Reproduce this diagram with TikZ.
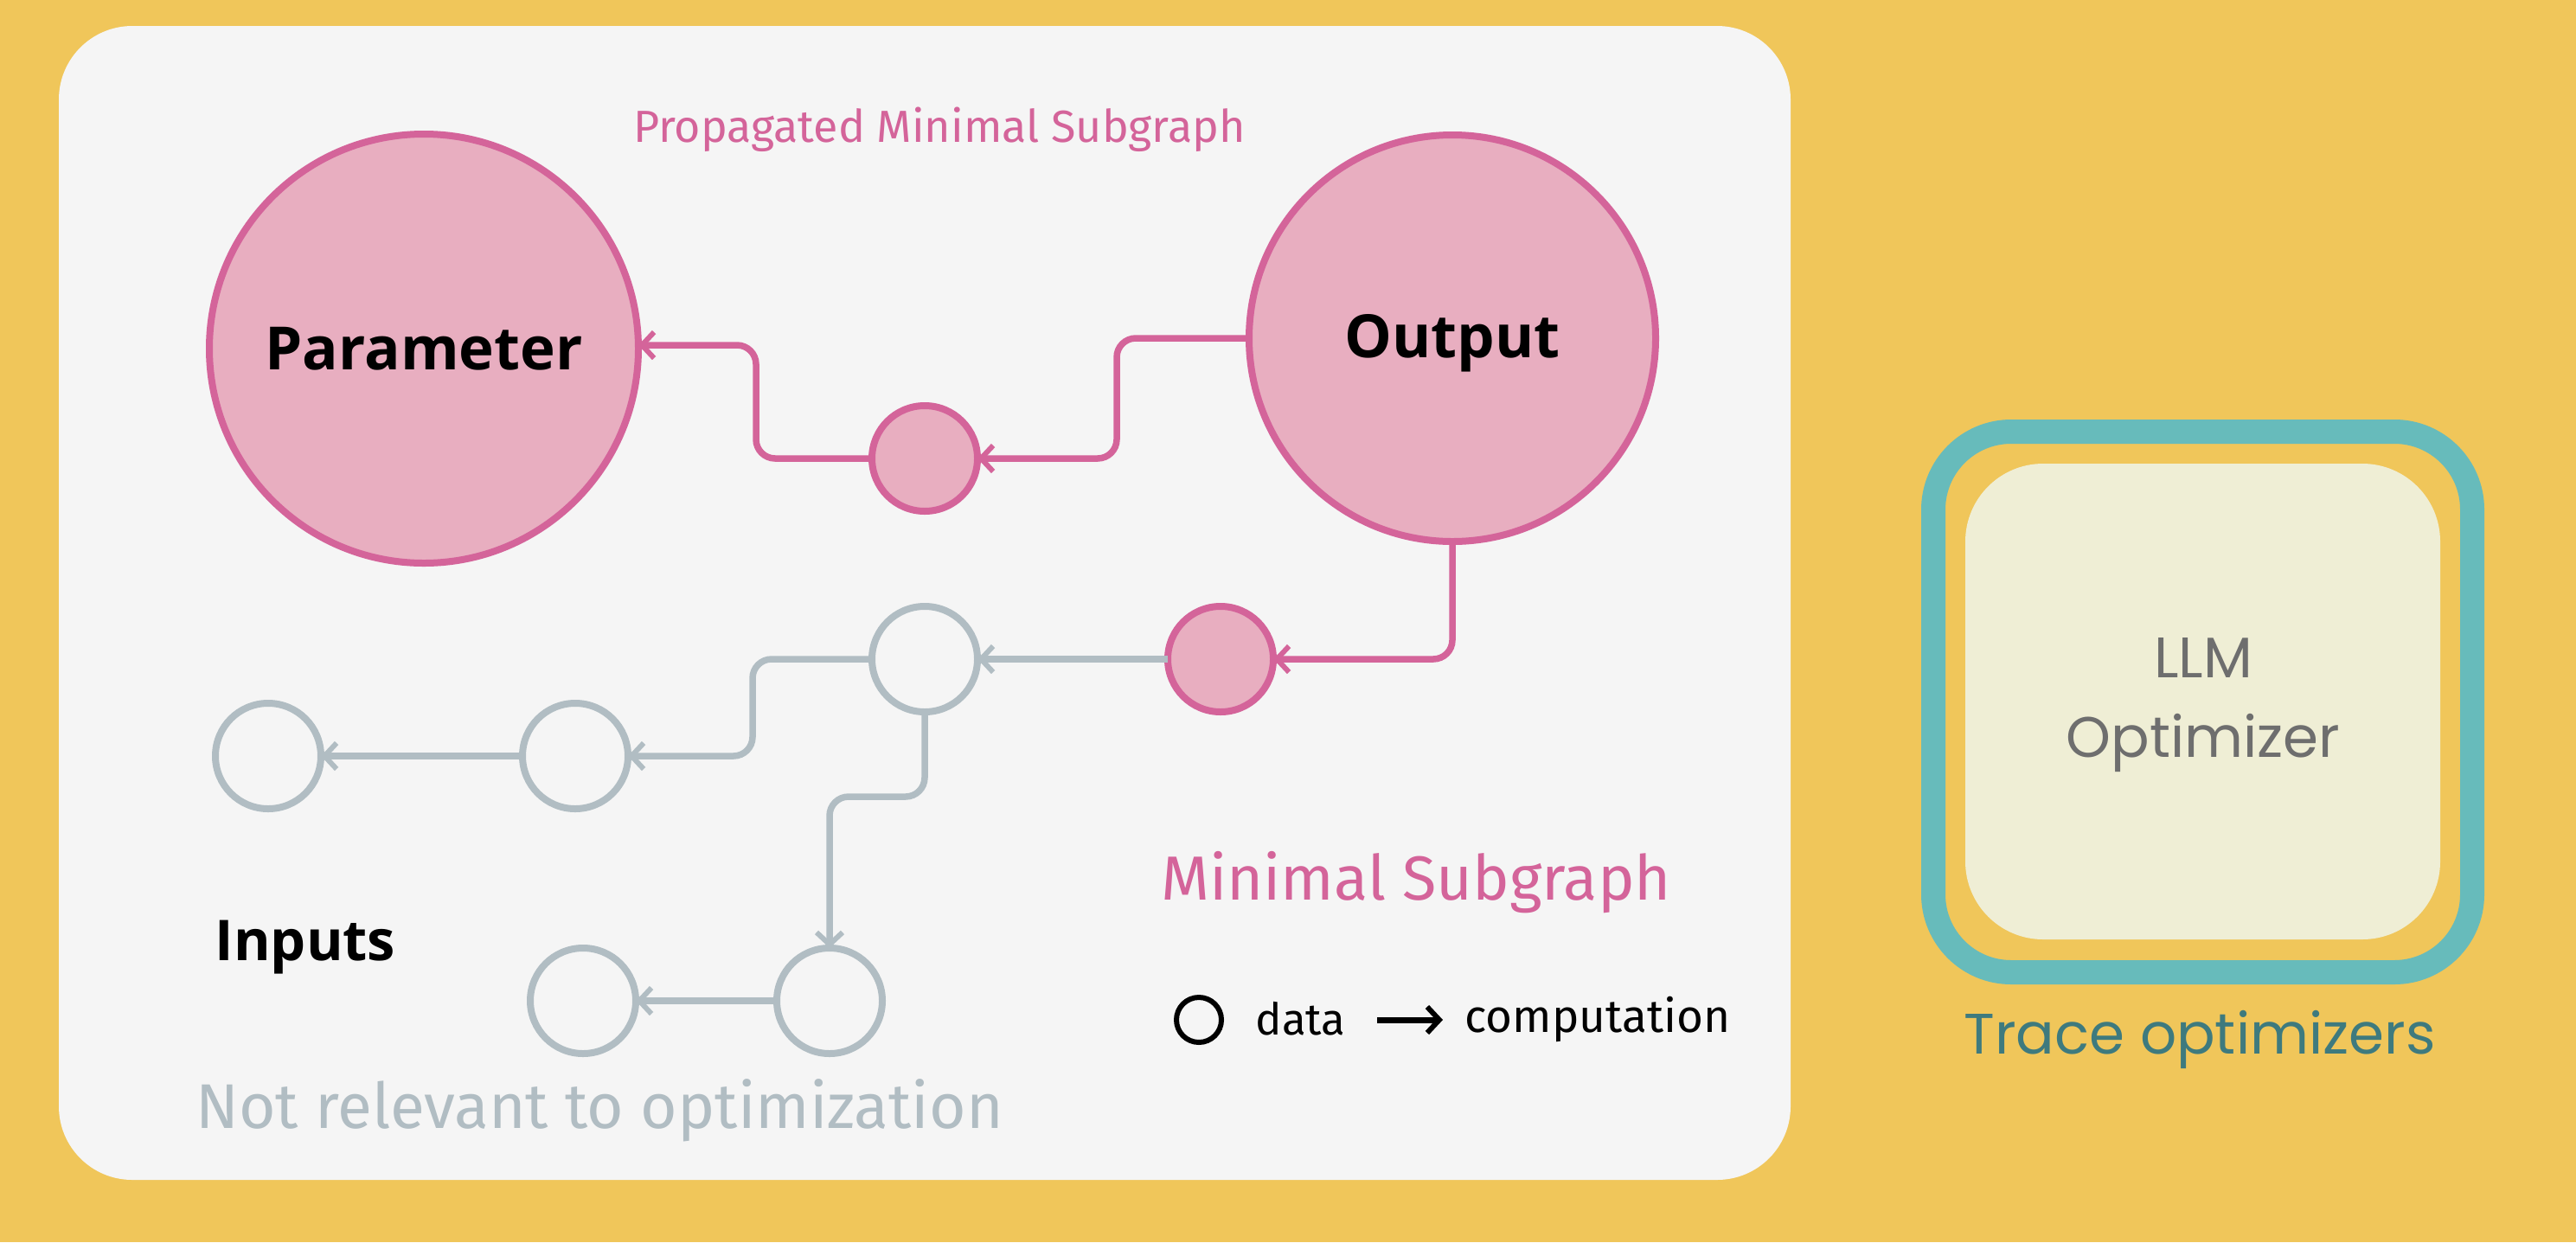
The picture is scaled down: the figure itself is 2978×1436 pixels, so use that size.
\documentclass[tikz,border=0pt]{standalone}
\usepackage{fontspec}
\setmainfont{Fira Sans}
\newfontfamily\bfont{Open Sans}
\newfontfamily\lfont{Poppins}
\usetikzlibrary{arrows.meta,calc}
\definecolor{bgy}{HTML}{F0C65A}
\definecolor{panel}{HTML}{F5F5F5}
\definecolor{pinkf}{HTML}{E8AEC0}
\definecolor{pinks}{HTML}{D4649A}
\definecolor{grayc}{HTML}{B1BDC3}
\definecolor{tealc}{HTML}{67BBBB}
\definecolor{creamc}{HTML}{EFEED5}
\definecolor{dteal}{HTML}{3E7A7E}
\definecolor{llmgray}{HTML}{6E6E6E}
\tikzset{
  pinkc/.style={circle,draw=pinks,fill=pinkf,line width=8pt,inner sep=0pt,outer sep=0pt},
  grayc/.style={circle,draw=grayc,fill=panel,line width=8pt,inner sep=0pt,outer sep=0pt,minimum size=122pt},
  pinkline/.style={draw=pinks,line width=7.5pt,rounded corners=22pt,-{Straight Barb[length=14pt,width=30pt,line width=6pt]}},
  grayline/.style={draw=grayc,line width=7.5pt,rounded corners=22pt,-{Straight Barb[length=14pt,width=30pt,line width=6pt]}},
  fsz/.style={font=\fontsize{#1}{#1}\selectfont},
  boldtxt/.style={font=\bfont\bfseries\fontsize{69}{69}\selectfont}
}
\begin{document}
\begin{tikzpicture}[x=1pt,y=-1pt]
\fill[bgy] (0,0) rectangle (2978,1436);
\useasboundingbox (0,0) rectangle (2978,1436);
\fill[panel,rounded corners=85pt] (68,30) rectangle (2070,1364);
% big nodes
\node[pinkc,minimum size=496pt,boldtxt] (param) at (490,403) {Parameter};
\node[pinkc,minimum size=470pt] (out) at (1679,391) {};
\node[boldtxt,anchor=base] (outtxt) at ($(out.center)+(0,22)$) {Output};
\node[pinkc,minimum size=122pt] (c1) at (1069,530) {};
\node[pinkc,minimum size=122pt] (c2) at (1411,762) {};
\node[grayc] (g1) at (1069,762) {};
\node[grayc] (g2) at (665,874) {};
\node[grayc] (g3) at (310,874) {};
\node[grayc] (g4) at (959,1157) {};
\node[grayc] (g5) at (674,1157) {};
% connectors
\draw[pinkline] (out.west) -- ++(-153,0) |- (c1.east);
\draw[pinkline] (c1.west) -- ++(-134,0) |- ($(param.east)+(0,-4)$);
\draw[pinkline] (out.south) |- (c2.east);
\draw[grayline] (c2.west) -- (g1.east);
\draw[grayline] (g1.west) -- ++(-138,0) |- (g2.east);
\draw[grayline] (g2.west) -- (g3.east);
\draw[grayline] (g1.south) -- ++(0,98) -| (g4.north);
\draw[grayline] (g4.west) -- (g5.east);
% texts
\node[text=pinks,fsz=52] (tprop) at (1086,150) {Propagated Minimal Subgraph};
\node[text=pinks,fsz=72] (tmin) at (1637,1020) {Minimal Subgraph};
\node[font=\bfont\bfseries\fontsize{65}{65}\selectfont] (tin) at (353,1095) {Inputs};
\node[text=grayc,fsz=73] (tnot) at (693,1284) {Not relevant to optimization};
% legend
\node[circle,draw=black,line width=6pt,minimum size=52pt,inner sep=0pt] (lc) at (1386,1179) {};
\node[fsz=51,anchor=west] (ldata) at (1448,1178) {data};
\coordinate (la1) at (1592,1179);
\coordinate (la2) at (1668,1179);
\draw[line width=7pt,-{Straight Barb[length=14pt,width=30pt,line width=6pt]}] (la1) -- (la2);
\node[fsz=53,anchor=west] (lcomp) at (1690,1178) {computation};
% right optimizer
\draw[tealc,line width=28pt,rounded corners=90pt] (2235,499) rectangle (2858,1124);
\fill[creamc,rounded corners=90pt] (2272,536) rectangle (2821,1086);
\node[text=llmgray,font=\lfont\fontsize{66}{92}\selectfont,align=center] (llm) at (2547,815) {LLM\\Optimizer};
\node[text=dteal,font=\lfont\fontsize{66}{66}\selectfont] (trace) at (2543,1202) {Trace optimizers};
\end{tikzpicture}
\end{document}
